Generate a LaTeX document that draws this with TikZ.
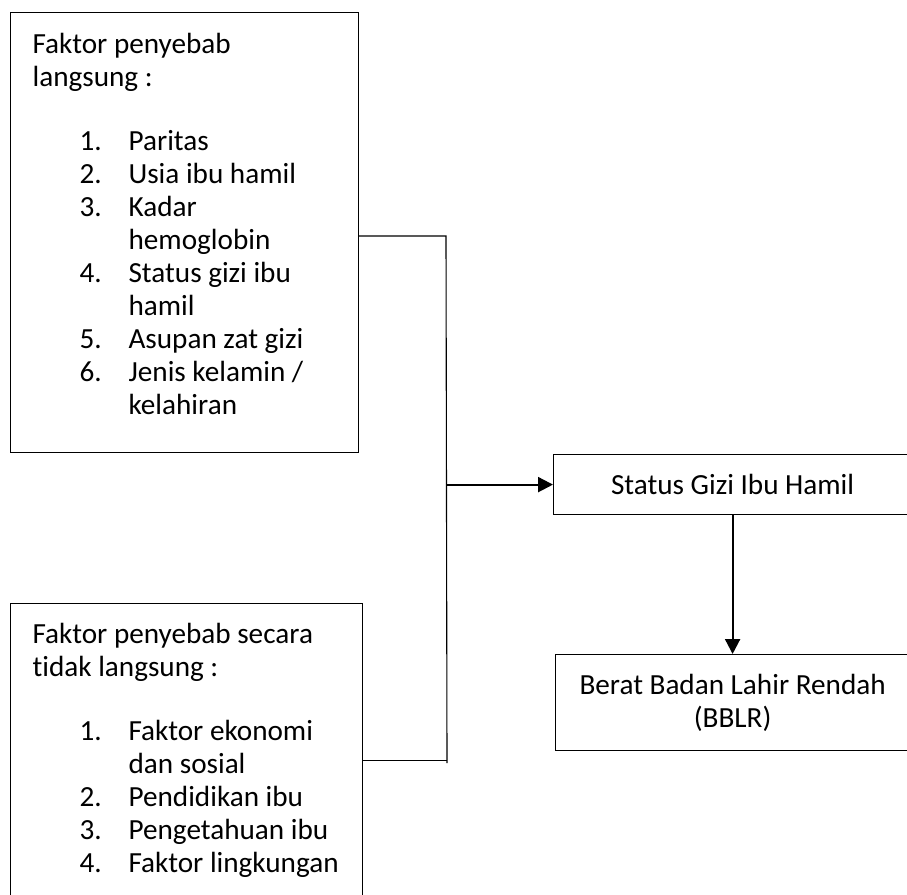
\documentclass[tikz,border=0pt]{standalone}
\usepackage{fontspec}
\setmainfont{Carlito}[Ligatures=NoCommon]
\usetikzlibrary{arrows.meta}

\newcommand{\boxtext}[3]{%
  \begin{minipage}[t][#1][t]{#2}
    \fontsize{29.2pt}{33pt}\selectfont\leftskip=22pt\parindent=0pt
    #3
  \end{minipage}}
\newcommand{\itm}[2]{\hspace*{47pt}\makebox[49pt][l]{#1}#2}
\newcommand{\cnt}[1]{\hspace*{96pt}#1}

\begin{document}
\begin{tikzpicture}[x=1pt,y=-1pt,
    factorbox/.style={draw, line width=1.2pt, inner sep=0pt, anchor=north west},
    statebox/.style={draw, line width=1.2pt, inner sep=0pt, anchor=north west,
      align=center, font=\fontsize{29.2pt}{33pt}\selectfont},
    link/.style={line width=1.1pt},
    flow/.style={line width=2.2pt, -{Triangle[length=15pt,width=15pt]}}]
  \useasboundingbox (0,0) rectangle (907,894);
  \clip (0,0) rectangle (907,894);
  % left boxes
  \node[factorbox] (direct) at (10,12) {\boxtext{440pt}{348pt}{%
      \rule{0pt}{41pt}Faktor penyebab\\
      langsung :\par\vspace{31pt}
      \itm{1.}{Paritas}\\
      \itm{2.}{Usia ibu hamil}\\
      \itm{3.}{Kadar}\\
      \cnt{hemoglobin}\\
      \itm{4.}{Status gizi ibu}\\
      \cnt{hamil}\\
      \itm{5.}{Asupan zat gizi}\\
      \itm{6.}{Jenis kelamin /}\\
      \cnt{kelahiran}}};
  \node[factorbox] (indirect) at (10,603) {\boxtext{314pt}{352pt}{%
      \rule{0pt}{40pt}Faktor penyebab secara\\
      tidak langsung :\par\vspace{31pt}
      \itm{1.}{Faktor ekonomi}\\
      \cnt{dan sosial}\\
      \itm{2.}{Pendidikan ibu}\\
      \itm{3.}{Pengetahuan ibu}\\
      \itm{4.}{Faktor lingkungan}}};
  % right boxes
  \node[statebox, minimum width=358pt, minimum height=60pt] (gizi) at (553,454)
    {Status Gizi Ibu Hamil};
  \node[statebox, minimum width=354pt, minimum height=96pt] (bblr) at (555,654)
    {Berat Badan Lahir Rendah\\(BBLR)};
  % connectors
  \coordinate (railtop) at (446,236);
  \coordinate (railend) at (447,763);
  \draw[link] (direct.east |- railtop) -- (railtop) -- (railend);
  \draw[link] (indirect.east) -- (indirect.east -| railend);
  \draw[flow] (railend |- gizi.west) -- (gizi.west);
  \draw[flow] (gizi.south) -- (bblr.north);
\end{tikzpicture}
\end{document}
